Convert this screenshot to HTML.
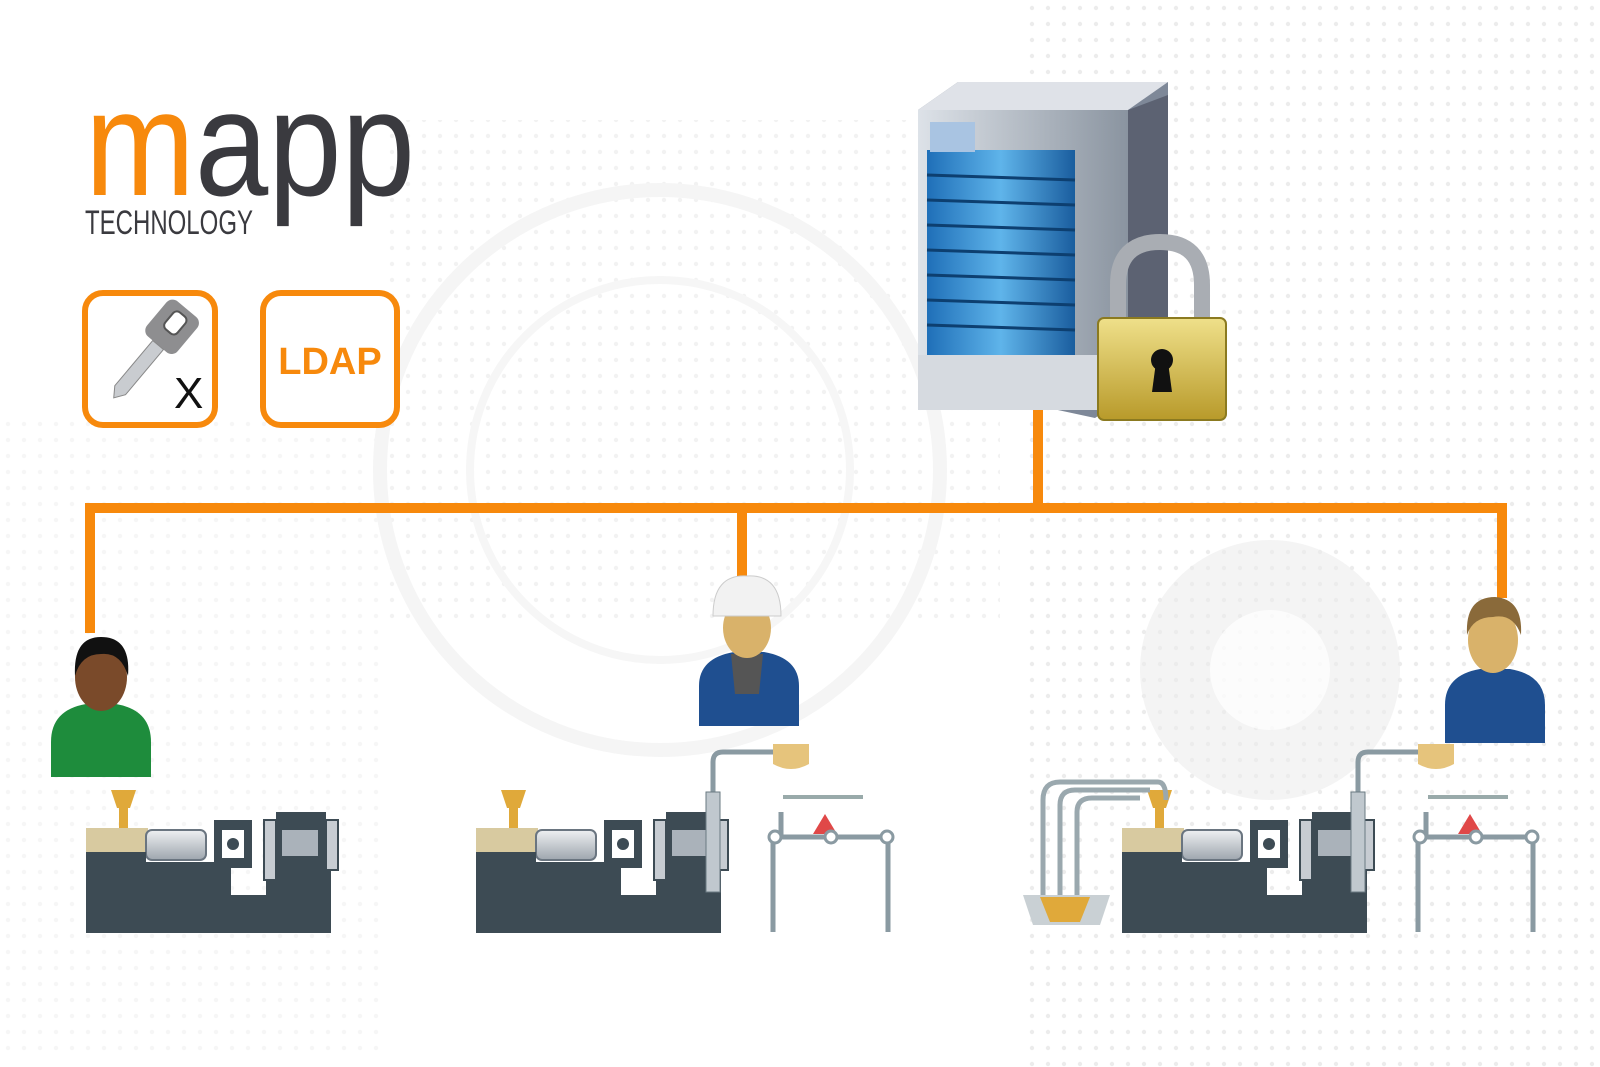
<!DOCTYPE html>
<html><head><meta charset="utf-8"><style>
html,body{margin:0;padding:0;background:#fff;width:1600px;height:1067px;overflow:hidden;}
svg{display:block}
</style></head><body>
<svg width="1600" height="1067" viewBox="0 0 1600 1067" xmlns="http://www.w3.org/2000/svg" overflow="hidden">
<defs>
<pattern id="dots" width="16" height="16" patternUnits="userSpaceOnUse"><circle cx="8" cy="8" r="2.2" fill="#e4e4e4"/></pattern>
<linearGradient id="blue" x1="0" y1="0" x2="1" y2="0"><stop offset="0" stop-color="#1f6fb8"/><stop offset="0.5" stop-color="#5fb4ea"/><stop offset="1" stop-color="#1a5d9e"/></linearGradient>
<linearGradient id="gold" x1="0" y1="0" x2="0" y2="1"><stop offset="0" stop-color="#efe08a"/><stop offset="1" stop-color="#b89a2a"/></linearGradient>
<linearGradient id="steel" x1="0" y1="0" x2="1" y2="0"><stop offset="0" stop-color="#dde2e8"/><stop offset="1" stop-color="#8a94a0"/></linearGradient>
<linearGradient id="cyl" x1="0" y1="0" x2="0" y2="1"><stop offset="0" stop-color="#eef0f2"/><stop offset="1" stop-color="#9ea6ae"/></linearGradient>
<g id="mach">
  <path d="M25 0 H50 L44 18 H31 Z" fill="#e0a93a"/>
  <rect x="33" y="18" width="9" height="20" fill="#e0a93a"/>
  <rect x="0" y="38" width="62" height="24" fill="#d8caa0"/>
  <rect x="60" y="40" width="60" height="30" rx="6" fill="url(#cyl)" stroke="#6a7580" stroke-width="2"/>
  <path d="M0 62 H60 V72 H145 V105 H180 V72 H245 V143 H0 Z" fill="#3d4b54"/>
  <rect x="128" y="30" width="38" height="48" fill="#3d4b54"/>
  <rect x="136" y="40" width="22" height="28" fill="#fff"/>
  <circle cx="147" cy="54" r="6" fill="#3d4b54"/>
  <rect x="178" y="30" width="12" height="60" fill="#c7ccd2" stroke="#3d4b54" stroke-width="2"/>
  <rect x="190" y="22" width="50" height="56" fill="#3d4b54"/>
  <rect x="196" y="40" width="36" height="26" fill="#aab2ba"/>
  <rect x="240" y="30" width="12" height="50" fill="#c7ccd2" stroke="#3d4b54" stroke-width="2"/>
</g>
<g id="robot">
  <path d="M0 60 V10 Q0 0 10 0 H70" fill="none" stroke="#8a9aa2" stroke-width="5"/>
  <rect x="-7" y="40" width="14" height="100" fill="#c0c8ce" stroke="#6a7a82"/>
  <path d="M60 -8 H96 V12 Q78 22 60 12 Z" fill="#e6c47c"/>
  <path d="M70 45 H150" stroke="#9aa" stroke-width="4"/>
  <path d="M55 85 H180 M60 85 V180 M175 85 V180 M68 60 V85" stroke="#8a9aa2" stroke-width="5" fill="none"/>
  <path d="M100 82 L112 62 L124 82 Z" fill="#e04848"/>
  <circle cx="62" cy="85" r="6" fill="#fff" stroke="#8a9aa2" stroke-width="3"/>
  <circle cx="118" cy="85" r="6" fill="#fff" stroke="#8a9aa2" stroke-width="3"/>
  <circle cx="174" cy="85" r="6" fill="#fff" stroke="#8a9aa2" stroke-width="3"/>
</g>
</defs>
<rect width="1600" height="1067" fill="#fff"/>
<rect x="380" y="120" width="620" height="500" fill="url(#dots)" opacity="0.5"/>
<rect x="1020" y="0" width="580" height="1067" fill="url(#dots)" opacity="0.7"/>
<rect x="0" y="420" width="380" height="640" fill="url(#dots)" opacity="0.35"/>
<circle cx="660" cy="470" r="280" fill="none" stroke="#f5f5f5" stroke-width="14"/>
<circle cx="660" cy="470" r="190" fill="none" stroke="#f6f6f6" stroke-width="8"/>
<circle cx="1270" cy="670" r="130" fill="#ececec" opacity="0.6"/>
<circle cx="1270" cy="670" r="60" fill="#fff" opacity="0.7"/>

<!-- logo -->
<text x="85" y="195" font-family="Liberation Sans, sans-serif" font-size="150" textLength="330" lengthAdjust="spacingAndGlyphs"><tspan fill="#f7890c">m</tspan><tspan fill="#3a3a3f">app</tspan></text>
<text x="85" y="234" font-family="Liberation Sans, sans-serif" font-size="34" fill="#3a3a3f" textLength="168" lengthAdjust="spacingAndGlyphs">TECHNOLOGY</text>

<!-- boxes -->
<rect x="85" y="293" width="130" height="132" rx="18" fill="#fff" stroke="#f7890c" stroke-width="6"/>
<rect x="263" y="293" width="134" height="132" rx="18" fill="#fff" stroke="#f7890c" stroke-width="6"/>
<text x="330" y="374" text-anchor="middle" font-family="Liberation Sans, sans-serif" font-weight="bold" font-size="38" fill="#f7890c">LDAP</text>
<g transform="translate(150,350) rotate(40)">
  <rect x="-18" y="-55" width="40" height="46" rx="8" fill="#8e8e90"/>
  <rect x="-6" y="-48" width="16" height="22" rx="5" fill="#fff" stroke="#555" stroke-width="2"/>
  <path d="M-4 -9 H10 V50 L3 60 L-4 50 Z" fill="#c9ccd0" stroke="#888"/>
</g>
<text x="174" y="408" font-family="Liberation Sans, sans-serif" font-size="44" fill="#111">X</text>

<!-- connectors -->
<g fill="#f7890c">
<rect x="1033" y="405" width="10" height="100"/>
<rect x="85" y="503" width="1422" height="10"/>
<rect x="85" y="503" width="10" height="130"/>
<rect x="737" y="503" width="10" height="78"/>
<rect x="1497" y="503" width="10" height="95"/>
</g>

<!-- server -->
<path d="M918 110 L958 82 H1168 L1168 370 L1095 418 L918 380 Z" fill="#7e8898"/>
<path d="M918 110 L958 82 H1168 L1128 110 Z" fill="#dfe2e8"/>
<path d="M1128 110 L1168 95 V370 L1128 410 Z" fill="#5c6272"/>
<rect x="918" y="110" width="210" height="300" fill="url(#steel)"/>
<rect x="927" y="150" width="148" height="205" fill="url(#blue)"/>
<g stroke="#0d3f70" stroke-width="3">
<line x1="927" y1="175" x2="1075" y2="180"/><line x1="927" y1="200" x2="1075" y2="205"/><line x1="927" y1="225" x2="1075" y2="230"/><line x1="927" y1="250" x2="1075" y2="255"/><line x1="927" y1="275" x2="1075" y2="280"/><line x1="927" y1="300" x2="1075" y2="305"/><line x1="927" y1="325" x2="1075" y2="330"/>
</g>
<rect x="930" y="122" width="45" height="30" fill="#a9c4e2"/>
<rect x="918" y="355" width="210" height="55" fill="#d6dae0"/>
<!-- lock -->
<path d="M1118 320 V285 Q1118 242 1160 242 Q1202 242 1202 285 V320" fill="none" stroke="#a9adb3" stroke-width="16"/>
<rect x="1098" y="318" width="128" height="102" rx="6" fill="url(#gold)" stroke="#8b7a20" stroke-width="2"/>
<circle cx="1162" cy="360" r="11" fill="#111"/>
<path d="M1156 362 H1168 L1172 392 H1152 Z" fill="#111"/>

<!-- people -->
<g transform="translate(51,632)">
  <path d="M0 145 V110 Q0 78 35 72 H65 Q100 78 100 110 V145 Z" fill="#1e8c3c"/>
  <ellipse cx="50" cy="45" rx="26" ry="34" fill="#7a4a2a"/>
  <path d="M24 44 Q22 5 50 5 Q80 5 77 44 Q70 20 50 22 Q30 22 24 44Z" fill="#111"/>
</g>
<g transform="translate(699,576)">
  <path d="M0 150 V110 Q0 82 35 76 H65 Q100 82 100 110 V150 Z" fill="#1f4f90"/>
  <path d="M32 78 H64 L60 118 H36 Z" fill="#555"/>
  <ellipse cx="48" cy="52" rx="24" ry="30" fill="#d9b26a"/>
  <path d="M14 40 Q14 -2 48 0 Q82 -2 82 40 Z" fill="#f2f2f2" stroke="#ccc"/>
</g>
<g transform="translate(1443,595)">
  <path d="M2 148 V110 Q2 80 37 74 H67 Q102 80 102 110 V148 Z" fill="#1f4f90"/>
  <ellipse cx="50" cy="45" rx="25" ry="33" fill="#d9b26a"/>
  <path d="M24 40 Q22 2 52 2 Q80 4 78 40 Q70 18 50 22 Q30 22 24 40Z" fill="#8a6a3a"/>
</g>

<!-- machines -->
<use href="#mach" transform="translate(86,790)"/>
<use href="#mach" transform="translate(476,790)"/>
<use href="#robot" transform="translate(713,752)"/>
<use href="#mach" transform="translate(1122,790)"/>
<use href="#robot" transform="translate(1358,752)"/>
<g fill="none" stroke="#9aa8ae" stroke-width="5">
<path d="M1043 895 V800 Q1043 782 1060 782 H1158 Q1166 782 1166 800"/>
<path d="M1060 895 V805 Q1060 790 1075 790 H1150"/>
<path d="M1077 895 V812 Q1077 798 1092 798 H1140"/>
</g>
<path d="M1023 895 H1110 L1100 925 H1033 Z" fill="#c9d0d4"/>
<path d="M1040 897 H1090 L1080 922 H1050 Z" fill="#e0a93a"/>
</svg>
</body></html>
